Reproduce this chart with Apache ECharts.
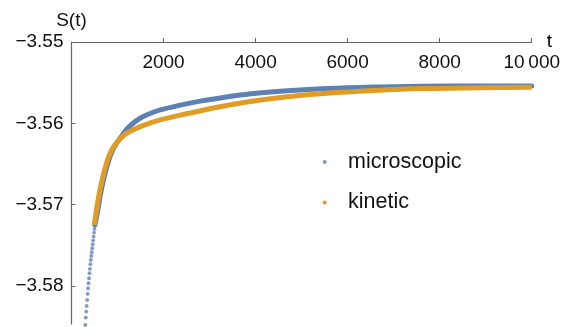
<!DOCTYPE html>
<html>
<head>
<meta charset="utf-8">
<script src="https://cdn.jsdelivr.net/npm/echarts@6/dist/echarts.min.js"></script>
<style>
  html, body { margin: 0; padding: 0; background: #fff; }
  #chart { width: 576px; height: 327px; }
</style>
</head>
<body>
<div id="chart"></div>
<script>
// ---- data ----
// microscopic: individually visible dots at early times
const microDotT = [300, 310, 320, 330, 340, 350, 360, 370, 380, 390, 400,
                   410, 420, 430, 440, 450, 460, 470, 480, 490, 500, 510];
const microDotS = [-3.58481, -3.58391, -3.58317, -3.58247, -3.58174, -3.58100,
                   -3.58030, -3.57968, -3.57907, -3.57845, -3.57792, -3.57735,
                   -3.57681, -3.57632, -3.57587, -3.57538, -3.57489, -3.57444,
                   -3.57394, -3.57345, -3.57300, -3.57251];
// microscopic: dense part (points merge into a thick band)
const microT = [510, 573, 634, 712, 812, 897, 979, 1060, 1162, 1305, 1494, 1631,
                1928, 2363, 2797, 3231, 3665, 4063, 4606, 5548, 6560, 7574, 8877, 10000];
const microS = [-3.57251, -3.57066, -3.56861, -3.56657, -3.56451, -3.56328,
                -3.56246, -3.56181, -3.56101, -3.56015, -3.55938, -3.55898,
                -3.55836, -3.55777, -3.55728, -3.55688, -3.55653, -3.55627,
                -3.55603, -3.55573, -3.55554, -3.55543, -3.55542, -3.55542];
// kinetic
const kinT = [495, 543, 604, 682, 784, 875, 969, 1147, 1320, 1537, 1928, 2428,
              3166, 3883, 4599, 5555, 6554, 7574, 8877, 10000];
const kinS = [-3.57251, -3.57066, -3.56861, -3.56657, -3.56451, -3.56328,
              -3.56246, -3.56144, -3.56086, -3.56031, -3.55959, -3.55892,
              -3.55803, -3.55732, -3.55680, -3.55632, -3.55598, -3.55573,
              -3.55563, -3.55557];
// ticks
const xTicks = [2000, 4000, 6000, 8000, 10000];
const yTicks = [-3.58, -3.57, -3.56, -3.55];

const BLUE = '#5E81B5';
const ORANGE = '#E19C24';
const FONT = 'Liberation Sans, Arial, sans-serif';

const zip = (a, b) => a.map((v, i) => [v, b[i]]);

const chart = echarts.init(document.getElementById('chart'), null, { renderer: 'canvas' });
chart.setOption({
  animation: false,
  backgroundColor: '#fff',
  textStyle: { fontFamily: FONT },
  grid: { left: 71.5, right: 44.3, top: 42, bottom: 3, containLabel: false },
  xAxis: {
    type: 'value', min: 0, max: 10000, position: 'top',
    name: 't', nameLocation: 'end', nameGap: 15,
    nameTextStyle: { fontSize: 19, color: '#000', fontFamily: FONT, verticalAlign: 'middle', padding: [12, 0, 0, 0] },
    axisLine: { show: true, onZero: false, lineStyle: { color: '#666', width: 1.2 } },
    axisTick: { show: true, inside: false, length: 4, customValues: xTicks, lineStyle: { color: '#666', width: 1 } },
    axisLabel: {
      show: true, inside: true, margin: 11, fontSize: 19, color: '#111', fontFamily: FONT,
      customValues: xTicks,
      formatter: v => (v >= 10000 ? '10\u2009000' : String(v))
    },
    splitLine: { show: false }
  },
  yAxis: {
    type: 'value', min: -3.5847, max: -3.55,
    name: 'S(t)', nameLocation: 'end', nameGap: 12,
    nameTextStyle: { fontSize: 19, color: '#111', fontFamily: FONT, align: 'center' },
    axisLine: { show: true, onZero: false, lineStyle: { color: '#666', width: 1.2 } },
    axisTick: { show: true, inside: true, length: 4, customValues: yTicks, lineStyle: { color: '#666', width: 1 } },
    axisLabel: {
      show: true, margin: 8, fontSize: 19, color: '#111', fontFamily: FONT,
      customValues: yTicks,
      formatter: v => '\u2212' + Math.abs(v).toFixed(2)
    },
    splitLine: { show: false }
  },
  legend: {
    orient: 'vertical', left: 317.7, top: 145,
    itemWidth: 36.6, itemHeight: 4, itemGap: 16.5,
    textStyle: { fontSize: 21.5, color: '#111', fontFamily: FONT, lineHeight: 24 },
    data: [
      { name: 'microscopic', icon: 'circle', itemStyle: { color: BLUE } },
      { name: 'kinetic', icon: 'circle', itemStyle: { color: ORANGE } }
    ]
  },
  series: [
    {
      name: 'microscopic', type: 'scatter', data: zip(microDotT, microDotS),
      symbol: 'circle', symbolSize: 3.8, itemStyle: { color: BLUE }, clip: false, z: 2
    },
    {
      name: 'microscopic', type: 'line', data: zip(microT, microS),
      smooth: 0.3, showSymbol: false, symbol: 'none',
      lineStyle: { color: BLUE, width: 5, cap: 'round' }, itemStyle: { color: BLUE }, z: 2
    },
    {
      name: 'kinetic', type: 'line', data: zip(kinT, kinS),
      smooth: 0.3, showSymbol: false, symbol: 'none',
      lineStyle: { color: ORANGE, width: 5, cap: 'butt' }, itemStyle: { color: ORANGE }, z: 3
    }
  ]
});
</script>
</body>
</html>
